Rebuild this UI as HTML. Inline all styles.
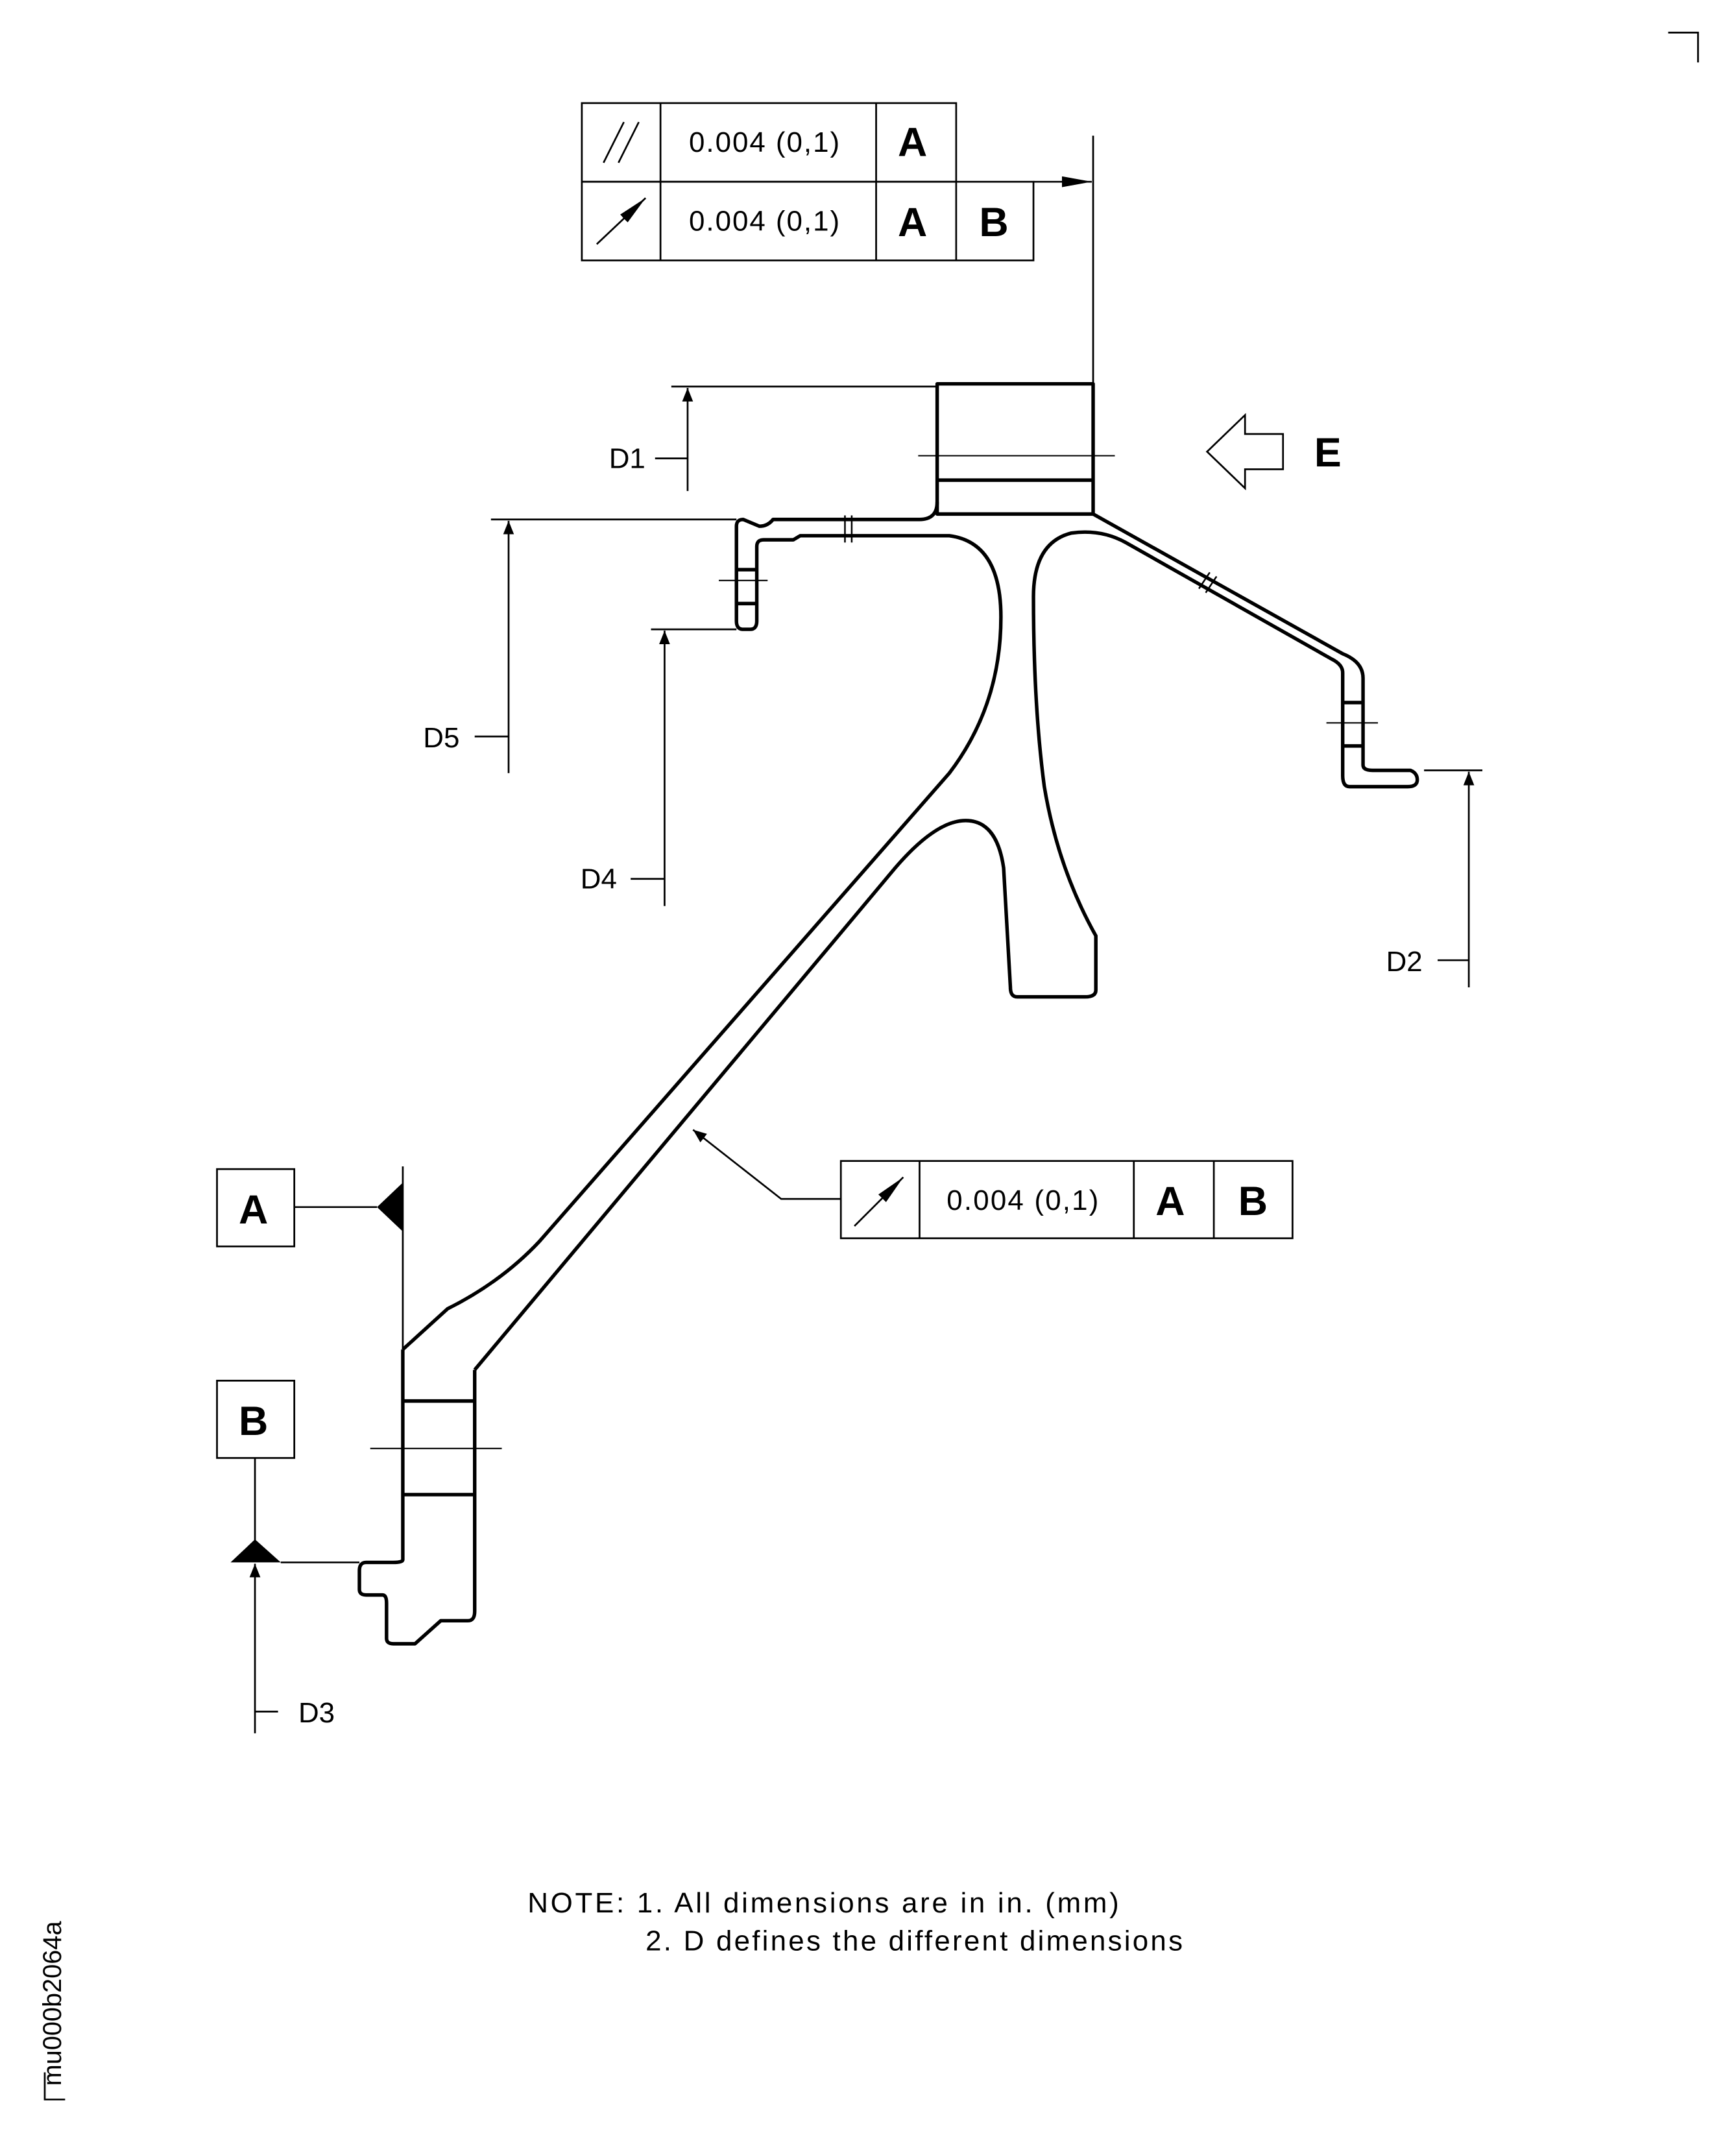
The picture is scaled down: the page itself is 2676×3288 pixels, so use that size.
<!DOCTYPE html>
<html><head><meta charset="utf-8"><style>
html,body{margin:0;padding:0;background:#fff;}
svg{display:block;}
text{font-family:"Liberation Sans",sans-serif;fill:#000;}
</style></head><body>
<svg width="2676" height="3288" viewBox="0 0 1280 1572.7" xmlns="http://www.w3.org/2000/svg" xml:space="preserve">
<defs>
<marker id="ar" markerWidth="10" markerHeight="8" refX="10" refY="4" orient="auto" markerUnits="userSpaceOnUse" viewBox="0 0 10 8">
<path d="M0,0 L10,4 L0,8 z" fill="#000"/></marker>
<marker id="ar2" markerWidth="22" markerHeight="8" refX="22" refY="4" orient="auto" markerUnits="userSpaceOnUse" viewBox="0 0 22 8">
<path d="M0,0 L22,4 L0,8 z" fill="#000"/></marker>
</defs>
<g fill="none" stroke="#000" stroke-width="1.3">
<path d="M1230,24 H1252 V46"/>
<path d="M33,1528 V1548 H48" />
<rect x="429" y="76" width="276" height="58"/>
<rect x="429" y="134" width="333" height="58"/>
<line x1="487" y1="76" x2="487" y2="192"/>
<line x1="646" y1="76" x2="646" y2="192"/>
<line x1="705" y1="134" x2="705" y2="192"/>
<line x1="445" y1="120" x2="460" y2="90"/><line x1="456" y1="120" x2="471" y2="90"/>
<line x1="440" y1="180" x2="476" y2="146" marker-end="url(#ar2)"/>
<line x1="762" y1="134" x2="805" y2="134" marker-end="url(#ar2)"/>
<line x1="806" y1="100" x2="806" y2="283"/>
<line x1="495" y1="285" x2="691" y2="285"/>
<line x1="507" y1="362" x2="507" y2="286" marker-end="url(#ar)"/>
<line x1="483" y1="338" x2="507" y2="338"/>
<path d="M890,333 L918,306 V320 H946 V346 H918 V360 Z"/>
<line x1="362" y1="383" x2="543" y2="383"/>
<line x1="375" y1="570" x2="375" y2="384" marker-end="url(#ar)"/>
<line x1="350" y1="543" x2="375" y2="543"/>
<line x1="480" y1="464" x2="543" y2="464"/>
<line x1="490" y1="668" x2="490" y2="465" marker-end="url(#ar)"/>
<line x1="465" y1="648" x2="490" y2="648"/>
<line x1="1050" y1="568" x2="1093" y2="568"/>
<line x1="1083" y1="728" x2="1083" y2="569" marker-end="url(#ar)"/>
<line x1="1060" y1="708" x2="1083" y2="708"/>
<line x1="677" y1="336" x2="822" y2="336" stroke-width="1"/>
<line x1="530" y1="428" x2="566" y2="428" stroke-width="1"/>
<line x1="978" y1="533" x2="1016" y2="533" stroke-width="1"/>
<line x1="273" y1="1068" x2="370" y2="1068" stroke-width="1"/>
</g>
<g fill="none" stroke="#000" stroke-width="2.6" stroke-linejoin="round">
<rect x="691" y="283" width="115" height="96"/>
<line x1="691" y1="354" x2="806" y2="354"/>
<path d="M691,370 Q691,383 678,383 H570 Q566,388 560,388 L548,383 Q543,383 543,388 V458 Q543,464 548,464 H553 Q558,464 558,458 V403 Q558,398 563,398 H585 L590,395 H700 Q738,400 738,455 Q738,520 700,570 L398,915 Q370,945 330,965 L297,995"/>
<line x1="543" y1="420" x2="558" y2="420"/><line x1="543" y1="445" x2="558" y2="445"/>
<path d="M806,379 L990,482 Q1005,488 1005,500 V564 Q1005,568 1012,568 H1040 Q1045,570 1045,575 Q1045,580 1038,580 H995 Q990,580 990,572 V496 Q990,490 982,486 L830,400 Q812,390 790,393 Q762,400 762,440 Q762,520 770,580 Q780,640 808,690 V730 Q808,735 800,735 H750 Q745,735 745,728 L740,640 Q735,605 712,605 Q690,605 660,640 L350,1010"/>
<line x1="990" y1="518" x2="1005" y2="518"/><line x1="990" y1="550" x2="1005" y2="550"/>
<path d="M297,995 V1150 Q297,1152 290,1152 H270 Q265,1152 265,1158 V1172 Q265,1176 270,1176 H282 Q285,1176 285,1182 V1208 Q285,1212 290,1212 H306 L325,1195 H345 Q350,1195 350,1188 V1010"/>
<line x1="297" y1="1033" x2="350" y2="1033"/>
<line x1="297" y1="1102" x2="350" y2="1102"/>
</g>
<g stroke="#000" stroke-width="1.2">
<line x1="623" y1="380" x2="623" y2="400"/><line x1="628" y1="380" x2="628" y2="400"/>
<line x1="884" y1="434" x2="892" y2="422"/><line x1="889" y1="437" x2="897" y2="425"/>
</g>
<g fill="none" stroke="#000" stroke-width="1.3">
<rect x="160" y="862" width="57" height="57"/>
<line x1="217" y1="890" x2="278" y2="890"/>
<line x1="297" y1="860" x2="297" y2="995"/>
<rect x="160" y="1018" width="57" height="57"/>
<line x1="188" y1="1075" x2="188" y2="1136"/>
<line x1="207" y1="1152" x2="265" y2="1152"/>
<line x1="188" y1="1278" x2="188" y2="1153" marker-end="url(#ar)"/>
<line x1="188" y1="1262" x2="205" y2="1262"/>
<rect x="620" y="856" width="333" height="57"/>
<line x1="678" y1="856" x2="678" y2="913"/>
<line x1="836" y1="856" x2="836" y2="913"/>
<line x1="895" y1="856" x2="895" y2="913"/>
<line x1="630" y1="904" x2="666" y2="868" marker-end="url(#ar2)"/>
<path d="M620,884 H576 L511,833" marker-end="url(#ar)"/>
</g>
<path d="M278,890 L297,872 V908 Z" fill="#000"/>
<path d="M188,1135 L170,1152 H207 Z" fill="#000"/>
<g font-size="21">
<text x="508" y="112" textLength="111" lengthAdjust="spacing">0.004  (0,1)</text>
<text x="508" y="170" textLength="111" lengthAdjust="spacing">0.004  (0,1)</text>
<text x="698" y="892" textLength="112" lengthAdjust="spacing">0.004  (0,1)</text>
<text x="449" y="345">D1</text>
<text x="312" y="551">D5</text>
<text x="428" y="655">D4</text>
<text x="1022" y="716">D2</text>
<text x="220" y="1270">D3</text>
<text x="389" y="1410" textLength="436" lengthAdjust="spacing">NOTE:  1. All dimensions are in in. (mm)</text>
<text x="476" y="1438" textLength="396" lengthAdjust="spacing">2. D defines the different dimensions</text>
<text transform="translate(45,1538) rotate(-90)" font-size="19">mu000b2064a</text>
</g>
<g font-size="30" font-weight="bold">
<text x="662" y="115">A</text>
<text x="662" y="174">A</text>
<text x="722" y="174">B</text>
<text x="969" y="344">E</text>
<text x="176" y="902">A</text>
<text x="176" y="1058">B</text>
<text x="852" y="896">A</text>
<text x="913" y="896">B</text>
</g>
</svg>
</body></html>
